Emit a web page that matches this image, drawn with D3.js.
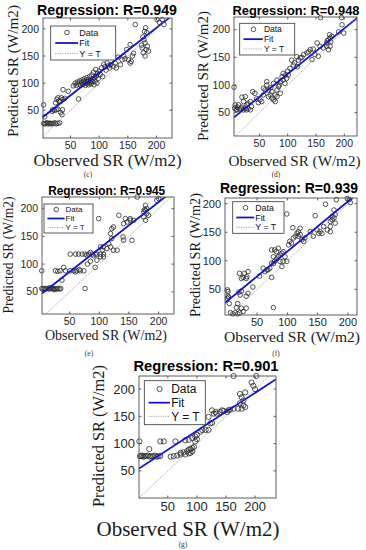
<!DOCTYPE html>
<html lang="en">
<head>
<meta charset="UTF-8">
<title>Regression plots (c)-(g)</title>
<script src="https://d3js.org/d3.v7.min.js"></script>
<style>
  body { margin: 0; background: #fff; }
  svg { display: block; }
  .tick-label { font-family: "Liberation Sans", Arial, sans-serif; fill: #262626; }
  .title { font-family: "Liberation Sans", Arial, sans-serif; font-weight: bold; fill: #000; }
  .axis-label { font-family: "Liberation Serif", "Times New Roman", serif; fill: #1a1a1a; }
  .caption { font-family: "Liberation Serif", "Times New Roman", serif; fill: #333; font-size: 7.5px; }
  .legend-text { font-family: "Liberation Sans", Arial, sans-serif; fill: #111; }
  .pt { fill: none; stroke: #2a2a2a; stroke-width: 0.8; }
  .fit { stroke: #1414c8; stroke-width: 1.8; fill: none; }
  .ident { stroke: #8c8c8c; stroke-width: 0.8; stroke-dasharray: 1.2,1.2; fill: none; }
  .frame { fill: none; stroke: #4d4d4d; stroke-width: 0.9; }
</style>
</head>
<body>
<svg width="366" height="550"></svg>
<script>
  const captions = ["(c)", "(d)", "(e)", "(f)", "(g)"];
  const rValues = [0.949, 0.948, 0.945, 0.939, 0.901];
  const fitSlope = [0.83, 0.825, 0.838, 0.875, 0.695];
  const fitIntercept = [36, 37.4, 44.2, 28.9, 54];
  const tickValues = [50, 100, 150, 200];
  const legendLabels = ["Data", "Fit", "Y = T"];

  // [observed, predicted]
  const pointsC = [
    [3,26],[5,25],[7,26],[9,27],[11,25],[13,26],[15,26],[17,25],[20,26],[23,27],[25,25],[28,26],[31,27],
    [3,60],[5,38],[18,48],[19,51],[22,50],[25,51],[28,52],[30,67],[28,73],[34,73],[37,70],[36,51],[35,42],
    [33,46],[37,88],[46,85],[24,64],[40,72],[26,70],[32,66],[64,71],
    [55,95],[58,100],[60,96],[62,102],[64,98],[66,104],[68,96],[69,101],[70,106],[72,98],[73,103],[74,108],
    [75,100],[76,96],[77,104],[78,110],[79,99],[80,103],[81,107],[82,97],[83,112],[84,101],[85,105],[86,99],
    [87,115],[88,103],[89,108],[90,120],[91,97],[92,110],[93,104],[94,125],[95,113],[96,100],[97,118],[98,108],
    [100,122],[102,116],[104,128],[106,112],[108,135],[110,130],[112,124],[114,137],[116,132],[118,128],[120,134],
    [121,159],[125,131],[128,137],[130,128],[137,134],[140,143],[143,150],[148,162],[151,143],[154,137],[154,171],
    [156,140],[158,150],[160,155],[145,145],[133,148],[163,208],
    [177,156],[180,174],[181,202],[183,193],[184,168],[186,159],[175,165],[178,180],[176,185],[179,195],[182,162],
    [180,150],[174,170],[201,217],[210,217],[213,208],[205,212]
  ];
  const pointsD = [
    [5,96],[9,56],[11,60],[15,56],[19,60],[22,55],[25,58],[28,64],[30,67],[34,70],[36,61],[22,70],[19,78],[25,79],
    [13,64],[7,64],[38,88],[42,85],[34,55],[10,55],[6,58],[17,58],[30,57],[27,55],
    [51,73],[54,70],[57,82],[60,91],[63,100],[66,79],[69,82],[72,88],[75,73],[78,70],[78,82],[81,91],[84,97],
    [87,106],[90,115],[92,109],[95,103],[98,112],[101,118],[87,85],[81,79],[72,76],[66,91],[57,94],[63,106],
    [75,103],[81,109],[92,121],[104,130],[107,145],[110,136],[116,151],[119,145],[122,149],[117,133],[128,155],
    [134,158],[140,164],[143,146],[152,176],[157,170],[154,152],[45,75],[48,68],[70,95],[85,100],[96,118],
    [100,125],[112,140],[125,150],[137,160],[145,165],[148,155],[158,222],[195,222],
    [169,176],[172,182],[175,185],[178,188],[174,191],[169,170],[163,167],[175,170],[172,164],[176,178],[170,180],
    [196,209],[199,194],[190,196]
  ];
  const pointsE = [
    [3,56],[5,55],[7,56],[9,55],[12,56],[15,55],[18,56],[20,57],[22,55],[25,56],[28,55],[30,56],[33,55],[35,56],
    [16,57],[24,54],[3,88],
    [26,88],[34,88],[43,88],[51,88],[57,88],[62,88],[68,88],[74,88],[66,90],[60,86],[40,94],[37,71],[30,87],
    [51,118],[60,118],[65,118],[71,118],[76,118],[82,118],[88,118],[93,118],[96,118],[102,118],[107,118],
    [85,121],[90,115],[79,116],[93,94],[76,56],[99,182],
    [105,125],[107,131],[113,128],[116,137],[121,146],[119,155],[121,164],[124,167],[124,125],[130,125],
    [119,131],[102,113],[107,113],[96,107],[102,131],[85,105],[80,100],
    [133,188],[141,173],[144,182],[147,176],[152,182],[158,179],[140,149],[141,143],[155,143],[164,221],[152,179],
    [175,194],[178,197],[180,200],[178,206],[180,191],[175,185],[178,179],[183,188],[176,198],[200,218],[197,215]
  ];
  const pointsF = [
    [1,49],[2,46],[1,34],[3,36],[4,25],[2,38],
    [6,9],[10,7],[14,9],[18,7],[16,18],[24,17],[27,11],[32,17],[21,9],[18,25],[20,45],[24,47],[22,40],
    [21,78],[24,69],[27,71],[29,78],[32,69],[35,81],[33,72],[43,54],[35,43],[32,38],
    [54,73],[60,87],[63,81],[66,84],[68,84],[71,87],[74,96],[74,71],[77,95],[79,99],[82,103],[85,107],[88,110],
    [91,113],[93,116],[88,99],[96,107],[77,107],[74,119],[79,119],[82,116],[85,122],[93,99],[91,90],[99,99],
    [99,182],[77,18],
    [102,128],[104,134],[107,131],[110,140],[113,143],[116,148],[118,151],[121,146],[118,143],[124,137],[127,134],
    [129,140],[121,157],[109,158],[138,151],[143,143],[146,179],[152,148],[154,151],[157,148],[149,154],[163,199],
    [160,160],[166,154],[171,151],
    [171,169],[174,172],[177,175],[179,181],[177,189],[174,178],[179,166],[181,207],[171,160],
    [199,209],[202,207],[204,202]
  ];
  const pointsG = [
    [2,77],[4,77],[6,78],[8,76],[10,77],[13,77],[16,78],[19,76],[22,77],[25,77],[28,78],[31,76],[34,77],[37,77],
    [1,104],[18,90],[37,104],[43,104],[55,76],[60,77],[66,78],[72,80],
    [72,83],[77,84],[80,80],[83,86],[86,89],[89,90],[92,92],[89,83],[86,82],[95,94],[92,86],[97,104],[100,108],
    [63,104],[80,106],[86,107],[92,110],[97,113],[100,116],[106,122],[109,125],[115,125],[120,125],
    [123,137],[126,161],[129,155],[132,158],[134,155],[140,158],[143,161],[146,160],[152,158],[154,161],[157,162],
    [163,164],[120,149],[126,138],[163,224],[202,224],
    [174,191],[177,185],[180,179],[174,174],[180,170],[183,167],[171,164],[177,164],[183,194],
    [194,212],[197,206],[200,200]
  ];
  const allPoints = [pointsC, pointsD, pointsE, pointsF, pointsG];

  // panel placement (pixels) and axis limits
  const layout = [
    {box: [43, 18, 129, 120], xDom: [2, 227], yDom: [-1, 220], title: [107, 15, 140, 14],
     ylab: [13, 71, 132, 15.5], xlab: [107.6, 166, 148, 16.5], cap: [88, 177], tickFs: 10.5,
     legend: [50.7, 26, 65, 34, 9]},
    {box: [234, 17, 123, 119], xDom: [5, 222.5], yDom: [7.7, 223], title: [296, 15, 127, 13.5],
     ylab: [203, 76, 130, 15.5], xlab: [294.5, 166, 132, 15.5], cap: [276, 177], tickFs: 10.5,
     legend: [239.7, 23.3, 55, 31.7, 8.5]},
    {box: [42, 197, 132, 117], xDom: [3.4, 226], yDom: [10, 221], title: [106.7, 195, 117, 12.5],
     ylab: [8, 255, 117, 14], xlab: [106, 340, 122, 14.5], cap: [89, 356], tickFs: 10.5,
     legend: [44, 204, 49, 29, 8]},
    {box: [225, 198, 132, 117], xDom: [-3, 215], yDom: [5, 210], title: [289, 193, 138, 14],
     ylab: [195, 255, 124, 15], xlab: [292, 342, 136, 15.5], cap: [276, 356], tickFs: 11,
     legend: [232.7, 201.7, 51.3, 31.6, 8.8]},
    {box: [139, 376, 137, 122], xDom: [0.4, 236], yDom: [0.2, 224], title: [206, 371, 145, 14.5],
     ylab: [98, 436, 142, 17.5], xlab: [188, 536, 183, 20], cap: [183, 547], tickFs: 13,
     legend: [144.3, 380.7, 61, 44, 12]}
  ];

  const svg = d3.select("svg");

  layout.forEach((L, i) => {
    const [bx, by, bw, bh] = L.box;
    const x = d3.scaleLinear().domain(L.xDom).range([bx, bx + bw]);
    const y = d3.scaleLinear().domain(L.yDom).range([by + bh, by]);
    const g = svg.append("g");

    g.append("clipPath").attr("id", "clip" + i)
      .append("rect").attr("x", bx).attr("y", by).attr("width", bw).attr("height", bh);

    // ticks (inside, all four sides)
    const tl = 2.5;
    tickValues.forEach(t => {
      g.append("line").attr("class", "frame").attr("x1", x(t)).attr("x2", x(t)).attr("y1", by + bh).attr("y2", by + bh - tl);
      g.append("line").attr("class", "frame").attr("x1", x(t)).attr("x2", x(t)).attr("y1", by).attr("y2", by + tl);
      g.append("line").attr("class", "frame").attr("y1", y(t)).attr("y2", y(t)).attr("x1", bx).attr("x2", bx + tl);
      g.append("line").attr("class", "frame").attr("y1", y(t)).attr("y2", y(t)).attr("x1", bx + bw).attr("x2", bx + bw - tl);
    });

    g.selectAll(".xt").data(tickValues).enter().append("text")
      .attr("class", "tick-label")
      .attr("x", d => x(d)).attr("y", by + bh + L.tickFs)
      .attr("text-anchor", "middle").style("font-size", L.tickFs + "px")
      .text(d => d);
    g.selectAll(".yt").data(tickValues).enter().append("text")
      .attr("class", "tick-label")
      .attr("x", bx - 4).attr("y", d => y(d)).attr("dy", "0.35em")
      .attr("text-anchor", "end").style("font-size", L.tickFs + "px")
      .text(d => d);

    // data circles
    g.selectAll(".pt").data(allPoints[i]).enter().append("circle")
      .attr("class", "pt")
      .attr("cx", d => x(d[0])).attr("cy", d => y(d[1]))
      .attr("r", i === 4 ? 2.6 : 2.3);

    // fit line and Y = T
    const fitLine = d3.line().x(d => x(d)).y(d => y(fitSlope[i] * d + fitIntercept[i]));
    g.append("path").attr("class", "fit").attr("clip-path", `url(#clip${i})`)
      .attr("d", fitLine(L.xDom));
    const lo = Math.max(L.xDom[0], L.yDom[0]), hi = Math.min(L.xDom[1], L.yDom[1]);
    g.append("line").attr("class", "ident").attr("clip-path", `url(#clip${i})`)
      .attr("x1", x(lo)).attr("y1", y(lo)).attr("x2", x(hi)).attr("y2", y(hi));

    g.append("rect").attr("class", "frame")
      .attr("x", bx).attr("y", by).attr("width", bw).attr("height", bh);

    // legend
    const [lx, ly, lw, lh, lfs] = L.legend;
    const leg = g.append("g");
    leg.append("rect").attr("x", lx).attr("y", ly).attr("width", lw).attr("height", lh)
      .attr("fill", "#fff").attr("stroke", "#333").attr("stroke-width", 0.8);
    const rows = [0.19, 0.5, 0.81].map(f => ly + f * lh);
    leg.append("circle").attr("class", "pt").attr("cx", lx + 0.25 * lw).attr("cy", rows[0]).attr("r", i === 4 ? 2.6 : 2.3);
    leg.append("line").attr("class", "fit").attr("x1", lx + 0.07 * lw).attr("x2", lx + 0.42 * lw)
      .attr("y1", rows[1]).attr("y2", rows[1]);
    leg.append("line").attr("class", "ident").attr("x1", lx + 0.07 * lw).attr("x2", lx + 0.42 * lw)
      .attr("y1", rows[2]).attr("y2", rows[2]);
    leg.selectAll(".legend-text").data(legendLabels).enter().append("text")
      .attr("class", "legend-text")
      .attr("x", lx + 0.44 * lw).attr("y", (d, k) => rows[k]).attr("dy", "0.36em")
      .style("font-size", lfs + "px")
      .text(d => d);

    // title and labels
    g.append("text").attr("class", "title")
      .attr("x", L.title[0]).attr("y", L.title[1]).attr("text-anchor", "middle")
      .attr("textLength", L.title[2]).attr("lengthAdjust", "spacingAndGlyphs")
      .style("font-size", L.title[3] + "px")
      .text(`Regression: R=${rValues[i].toFixed(3)}`);

    g.append("text").attr("class", "axis-label")
      .attr("transform", `translate(${L.ylab[0]},${L.ylab[1]}) rotate(-90)`)
      .attr("text-anchor", "middle").attr("dy", "0.35em")
      .attr("textLength", L.ylab[2]).attr("lengthAdjust", "spacingAndGlyphs")
      .style("font-size", L.ylab[3] + "px")
      .text("Predicted SR (W/m2)");

    g.append("text").attr("class", "axis-label")
      .attr("x", L.xlab[0]).attr("y", L.xlab[1]).attr("text-anchor", "middle")
      .attr("textLength", L.xlab[2]).attr("lengthAdjust", "spacingAndGlyphs")
      .style("font-size", L.xlab[3] + "px")
      .text("Observed SR (W/m2)");

    g.append("text").attr("class", "caption")
      .attr("x", L.cap[0]).attr("y", L.cap[1]).attr("text-anchor", "middle")
      .text(captions[i]);
  });
</script>
</body>
</html>
